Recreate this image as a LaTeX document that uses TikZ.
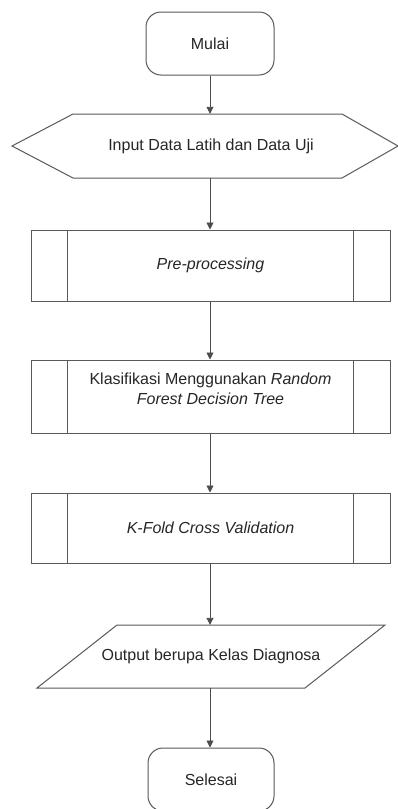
\documentclass[tikz,border=0pt]{standalone}
\usepackage{fontspec}
\setmainfont{Liberation Sans}
\usetikzlibrary{arrows.meta}
\begin{document}
\begin{tikzpicture}[x=1pt,y=-1pt,
  every node/.style={font=\fontsize{16}{20}\selectfont, text=black!85, inner sep=0pt},
  shape line/.style={draw=black!65, line width=1pt},
  conn/.style={draw=black!70, line width=0.9pt, -{Triangle[length=7pt,width=7pt]}},
  box/.style={draw=none, rectangle, minimum width=#1},
]
\useasboundingbox (0,0) rectangle (398,809);
\fill[white] (0,0) rectangle (398,809);

% Start
\node[shape line, rounded corners=15pt, minimum width=128pt, minimum height=63pt] (start) at (210,43.5) {Mulai};

% Input hexagon
\node[box=386pt, minimum height=64pt] (inp) at (205,146) {};
\draw[shape line] (73,114) -- (342,114) -- (398,146) -- (342,178) -- (73,178) -- (12,146) -- cycle;
\node at (211,146) {Input Data Latih dan Data Uji};

% Pre-processing
\node[shape line, minimum width=359pt, minimum height=71pt] (pre) at (210.5,265.5) {};
\draw[shape line] (67,230) -- (67,301) (353,230) -- (353,301);
\node at (210.5,265.5) {\itshape Pre-processing};

% Klasifikasi
\node[shape line, minimum width=359pt, minimum height=73pt] (kls) at (210.5,396.5) {};
\draw[shape line] (67,360) -- (67,433) (353,360) -- (353,433);
\node[align=center] at (210.5,389) {Klasifikasi Menggunakan \textit{Random}\\\textit{Forest Decision Tree}};

% K-Fold
\node[shape line, minimum width=359pt, minimum height=70pt] (kf) at (210.5,528) {};
\draw[shape line] (67,493) -- (67,563) (353,493) -- (353,563);
\node at (210.5,528) {\itshape K-Fold Cross Validation};

% Output parallelogram
\node[box=348pt, minimum height=63pt] (out) at (210,656.5) {};
\draw[shape line] (117,625) -- (385,625) -- (305,688) -- (37,688) -- cycle;
\node at (211,656) {Output berupa Kelas Diagnosa};

% End
\node[shape line, rounded corners=15pt, minimum width=126pt, minimum height=63pt] (stop) at (211,779.5) {Selesai};

% Connectors
\draw[conn] (start.south) -- (start.south |- inp.north);
\draw[conn] (inp.south -| start.south) -- (start.south |- pre.north);
\draw[conn] (pre.south -| start.south) -- (start.south |- kls.north);
\draw[conn] (kls.south -| start.south) -- (start.south |- kf.north);
\draw[conn] (kf.south -| start.south) -- (start.south |- out.north);
\draw[conn] (out.south -| start.south) -- (start.south |- stop.north);
\end{tikzpicture}
\end{document}
